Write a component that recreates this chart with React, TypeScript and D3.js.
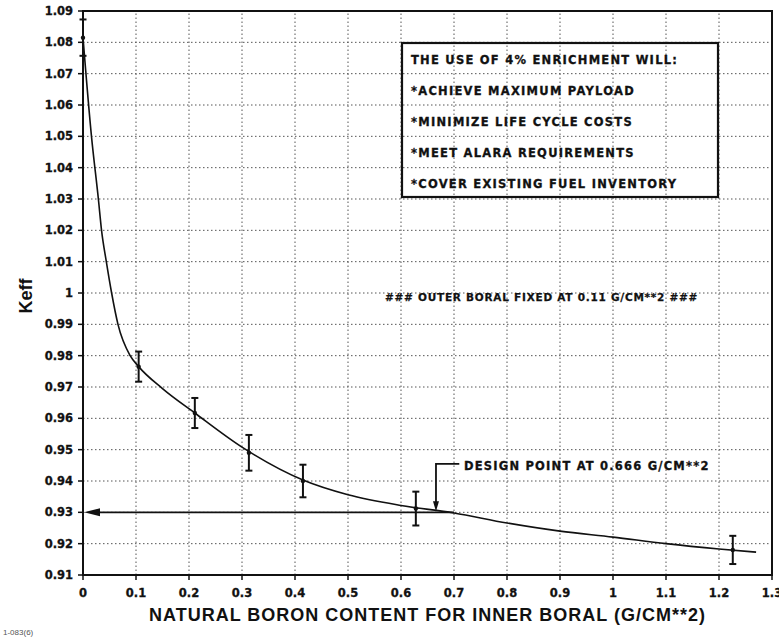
import React from 'react';
import * as d3 from 'd3';

const xTickValues = [0, 0.1, 0.2, 0.3, 0.4, 0.5, 0.6, 0.7, 0.8, 0.9, 1.0, 1.1, 1.2, 1.3];
const xTickLabels = ['0', '0.1', '0.2', '0.3', '0.4', '0.5', '0.6', '0.7', '0.8', '0.9', '1', '1.1', '1.2', '1.3'];
const yTickValues = [0.91, 0.92, 0.93, 0.94, 0.95, 0.96, 0.97, 0.98, 0.99, 1.0, 1.01, 1.02, 1.03, 1.04, 1.05, 1.06, 1.07, 1.08, 1.09];
const yTickLabels = ['0.91', '0.92', '0.93', '0.94', '0.95', '0.96', '0.97', '0.98', '0.99', '1', '1.01', '1.02', '1.03', '1.04', '1.05', '1.06', '1.07', '1.08', '1.09'];

// measured points with uncertainty
const pointX = [0, 0.105, 0.211, 0.313, 0.415, 0.628, 1.226];
const pointK = [1.0815, 0.9765, 0.9617, 0.9490, 0.9400, 0.9312, 0.9180];
const pointErr = [0.0058, 0.0048, 0.0048, 0.0057, 0.0052, 0.0054, 0.0045];

// fitted curve
const fitX = [0, 0.016, 0.029, 0.035, 0.044, 0.054, 0.066, 0.089, 0.105, 0.15, 0.211, 0.3, 0.415, 0.5, 0.6, 0.7, 0.8, 0.9, 1.0, 1.1, 1.2, 1.27];
const fitK = [1.0815, 1.05, 1.03, 1.02, 1.01, 1.0, 0.99, 0.98, 0.9765, 0.9695, 0.9617, 0.9508, 0.9403, 0.9356, 0.9322, 0.9298, 0.9266, 0.924, 0.9221, 0.9200, 0.9183, 0.9173];

const legendLines = [
  'THE USE OF 4% ENRICHMENT WILL:',
  '*ACHIEVE MAXIMUM PAYLOAD',
  '*MINIMIZE LIFE CYCLE COSTS',
  '*MEET ALARA REQUIREMENTS',
  '*COVER EXISTING FUEL INVENTORY',
];
const noteText = '### OUTER BORAL FIXED AT 0.11 G/CM**2 ###';
const designText = 'DESIGN POINT AT 0.666 G/CM**2';
const designX = 0.666;
const designK = 0.93;
const designLabelK = 0.9448;
const refLineK = 0.93;
const refLineEndX = 0.7;
const xTitle = 'NATURAL BORON CONTENT FOR INNER BORAL (G/CM**2)';
const yTitle = 'Keff';
const figId = '1-083(6)';

export default function App() {
  const W = 779, H = 641;
  const x = d3.scaleLinear().domain([0, 1.3]).range([83, 772]);
  const y = d3.scaleLinear().domain([0.91, 1.09]).range([575, 11]);
  const [x0, x1] = x.range();
  const [y0, y1] = y.range();

  const fitLine = d3.line<number>()
    .x((_, i) => x(fitX[i]))
    .y((d) => y(d))
    .curve(d3.curveMonotoneX)(fitK) as string;

  const tickFont = "'DejaVu Sans', sans-serif";
  const titleFont = "'Liberation Sans', Arial, sans-serif";
  const ink = '#111';
  const gridColor = '#555';

  const refY = y(refLineK);
  const dX = x(designX);
  const textY = y(designLabelK);

  return (
    <svg width={W} height={H} style={{ position: 'absolute', left: 0, top: 0, background: '#fff' }}>
      {/* grid */}
      {xTickValues.slice(1, -1).map((v) => (
        <line key={'gx' + v} x1={x(v)} x2={x(v)} y1={y0} y2={y1} stroke={gridColor} strokeWidth={1} strokeDasharray="1.5,2.5" />
      ))}
      {yTickValues.slice(1, -1).map((v) => (
        <line key={'gy' + v} x1={x0} x2={x1} y1={y(v)} y2={y(v)} stroke={gridColor} strokeWidth={1} strokeDasharray="1.5,2.5" />
      ))}

      {/* frame */}
      <rect x={x0} y={y1} width={x1 - x0} height={y0 - y1} fill="none" stroke={ink} strokeWidth={2} />

      {/* ticks */}
      {yTickValues.map((v, i) => (
        <g key={'yt' + v}>
          <line x1={x0 - 5} x2={x0} y1={y(v)} y2={y(v)} stroke={ink} strokeWidth={1.5} />
          <text x={x0 - 10} y={y(v)} dy="0.36em" textAnchor="end" fontFamily={tickFont} fontWeight="bold" fontSize={11.5} fill={ink} stroke={ink} strokeWidth={0.3}>{yTickLabels[i]}</text>
        </g>
      ))}
      {xTickValues.map((v, i) => (
        <g key={'xt' + v}>
          <line x1={x(v)} x2={x(v)} y1={y0} y2={y0 + 5} stroke={ink} strokeWidth={1.5} />
          <text x={x(v)} y={y0 + 22} textAnchor="middle" fontFamily={tickFont} fontWeight="bold" fontSize={11.5} fill={ink} stroke={ink} strokeWidth={0.3}>{xTickLabels[i]}</text>
        </g>
      ))}

      {/* titles */}
      <text x={(x0 + x1) / 2} y={621} textAnchor="middle" fontFamily={titleFont} fontWeight="bold" fontSize={18} letterSpacing={1} fill={ink}>{xTitle}</text>
      <text transform={`translate(32,${(y0 + y1) / 2 + 3}) rotate(-90)`} textAnchor="middle" fontFamily={titleFont} fontWeight="bold" fontSize={18} fill={ink}>{yTitle}</text>
      <text x={3} y={635} fontFamily={titleFont} fontSize={8} fill="#555">{figId}</text>

      {/* fitted curve */}
      <path d={fitLine} fill="none" stroke={ink} strokeWidth={1.6} />

      {/* error bars */}
      {pointX.map((px, i) => {
        const cx = x(px);
        const top = y(pointK[i] + pointErr[i]);
        const bot = y(pointK[i] - pointErr[i]);
        return (
          <g key={'p' + i}>
            <line x1={cx} x2={cx} y1={top} y2={bot} stroke={ink} strokeWidth={2} />
            <line x1={cx - 3.5} x2={cx + 3.5} y1={top} y2={top} stroke={ink} strokeWidth={2} />
            <line x1={cx - 3.5} x2={cx + 3.5} y1={bot} y2={bot} stroke={ink} strokeWidth={2} />
            <circle cx={cx} cy={y(pointK[i])} r={2.2} fill={ink} />
          </g>
        );
      })}

      {/* horizontal reference arrow to y-axis */}
      <line x1={x(0) + 14} x2={x(refLineEndX)} y1={refY} y2={refY} stroke={ink} strokeWidth={1.8} />
      <path d={`M${x(0) + 1},${refY} L${x(0) + 17},${refY - 4} L${x(0) + 17},${refY + 4} Z`} fill={ink} />

      {/* design point annotation */}
      <path d={`M${x(0.71)},${textY - 2} L${dX},${textY - 2} L${dX},${y(designK) - 9}`} fill="none" stroke={ink} strokeWidth={1.8} />
      <path d={`M${dX},${y(designK) - 1} L${dX - 3},${y(designK) - 11} L${dX + 3},${y(designK) - 11} Z`} fill={ink} />
      <text x={x(0.719)} y={textY + 4} fontFamily={tickFont} fontWeight="bold" fontSize={11.5} letterSpacing={1.2} fill={ink} stroke={ink} strokeWidth={0.3}>{designText}</text>

      {/* note */}
      <text x={385} y={301} fontFamily={tickFont} fontWeight="bold" fontSize={10.5} letterSpacing={0.75} fill={ink} stroke={ink} strokeWidth={0.25}>{noteText}</text>

      {/* legend box */}
      <rect x={402} y={43} width={316} height={154} fill="none" stroke={ink} strokeWidth={2.2} />
      {legendLines.map((t, i) => (
        <text key={'lg' + i} x={411} y={63.5 + i * 31.2} fontFamily={tickFont} fontWeight="bold" fontSize={11.5} letterSpacing={1.25} fill={ink} stroke={ink} strokeWidth={0.3}>{t}</text>
      ))}
    </svg>
  );
}
